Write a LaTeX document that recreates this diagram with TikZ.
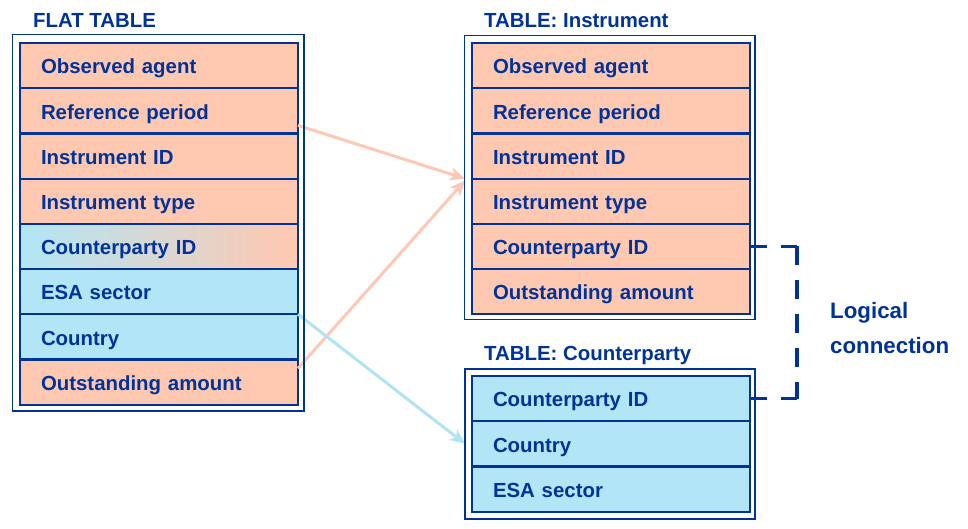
\documentclass[tikz,border=0pt]{standalone}
\usepackage{fontspec}
\setmainfont{Liberation Sans}
\usetikzlibrary{arrows.meta,calc}
\definecolor{dblue}{RGB}{0,51,153}
\definecolor{salmonfill}{RGB}{255,200,176}
\definecolor{cyanfill}{RGB}{178,230,246}
\definecolor{salmonarrow}{RGB}{255,200,180}
\definecolor{bluearrow}{RGB}{176,228,244}
\begin{document}
\begin{tikzpicture}[x=1pt,y=-1pt,
  font=\fontsize{20.4}{24}\selectfont\bfseries,
  tablerow/.style={draw=dblue, line width=2.2pt, rectangle, anchor=north west,
    minimum height=45.2pt, text width=236pt, inner xsep=21pt, inner ysep=0pt,
    outer sep=0pt, align=left, text height=16.4pt, text depth=0pt, text=dblue},
  salrow/.style={tablerow, fill=salmonfill},
  cyanrow/.style={tablerow, fill=cyanfill},
  gradrow/.style={tablerow, path picture={
    \foreach \k in {0,...,59}{
      \pgfmathtruncatemacro{\pc}{100-\k*100/59}
      \fill[cyanfill!\pc!salmonfill]
        ($(path picture bounding box.south west)!{\k/60}!(path picture bounding box.south east)$)
        rectangle
        ($(path picture bounding box.north west)!{(\k+1.3)/60}!(path picture bounding box.north east)$);
    }}},
  tableframe/.style={draw=dblue, line width=1.4pt},
  tabletitle/.style={anchor=base west, text=dblue, inner sep=0pt},
  salarrow/.style={draw=salmonarrow, line width=3pt, -{Stealth[length=15pt,width=13pt,inset=4pt]}},
  cyanarrow/.style={draw=bluearrow, line width=3pt, -{Stealth[length=15pt,width=13pt,inset=4pt]}},
  dashline/.style={draw=dblue, line width=3.5pt}
]
\useasboundingbox (0,0) rectangle (968,528);

% Flat table rows
\path (20,43) node[salrow] (f1) {Observed agent};
\path (f1.south west) node[salrow] (f2) {Reference period};
\path (f2.south west) node[salrow] (f3) {Instrument ID};
\path (f3.south west) node[salrow] (f4) {Instrument type};
\path (f4.south west) node[gradrow] (f5) {Counterparty ID};
\path (f5.south west) node[cyanrow] (f6) {ESA sector};
\path (f6.south west) node[cyanrow] (f7) {Country};
\path (f7.south west) node[salrow] (f8) {Outstanding amount};

% Instrument table rows
\path (472,43) node[salrow] (i1) {Observed agent};
\path (i1.south west) node[salrow] (i2) {Reference period};
\path (i2.south west) node[salrow] (i3) {Instrument ID};
\path (i3.south west) node[salrow] (i4) {Instrument type};
\path (i4.south west) node[salrow] (i5) {Counterparty ID};
\path (i5.south west) node[salrow] (i6) {Outstanding amount};

% Counterparty table rows
\path (472,376) node[cyanrow] (c1) {Counterparty ID};
\path (c1.south west) node[cyanrow] (c2) {Country};
\path (c2.south west) node[cyanrow] (c3) {ESA sector};

% Arrows
\coordinate (a1s) at ($(f2.south east)+(0,-8)$);
\coordinate (a1e) at ($(i4.north west)+(-7,0)$);
\coordinate (a2s) at ($(f8.north east)+(0,9)$);
\coordinate (a2e) at ($(i4.north west)+(-7,2)$);
\coordinate (a3s) at (f7.north east);
\coordinate (a3e) at ($(c2.west)+(-7,0)$);
\draw[salarrow] (a1s) -- (a1e);
\draw[salarrow] (a2s) -- (a2e);
\draw[cyanarrow] (a3s) -- (a3e);

% Frames
\draw[tableframe] (12.5,34.5) rectangle (304,411);
\draw[tableframe] (464.5,35.5) rectangle (755,319.5);
\draw[tableframe] (465,369) rectangle (755,519);

% Titles
\node[tabletitle] (t1) at (33,27) {FLAT TABLE};
\node[tabletitle] (t2) at (484,27) {TABLE: Instrument};
\node[tabletitle] (t3) at (484,360) {TABLE: Counterparty};

% Logical connection
\coordinate (d1) at ($(i5.east)+(47,0)$);
\coordinate (d2) at (d1 |- c1.east);
\draw[dashline, dash pattern=on 16.5pt off 14pt] (i5.east) -- (d1);
\draw[dashline, dash pattern=on 18.8pt off 15pt] (d1) -- (d2);
\draw[dashline, dash pattern=on 16.5pt off 14pt] (d2) -- (c1.east);
\node[anchor=base west, text=dblue, align=left, inner sep=0pt,
  font=\fontsize{22.3}{35}\selectfont\bfseries] (lc) at (830,353) {Logical\\connection};
\end{tikzpicture}
\end{document}
